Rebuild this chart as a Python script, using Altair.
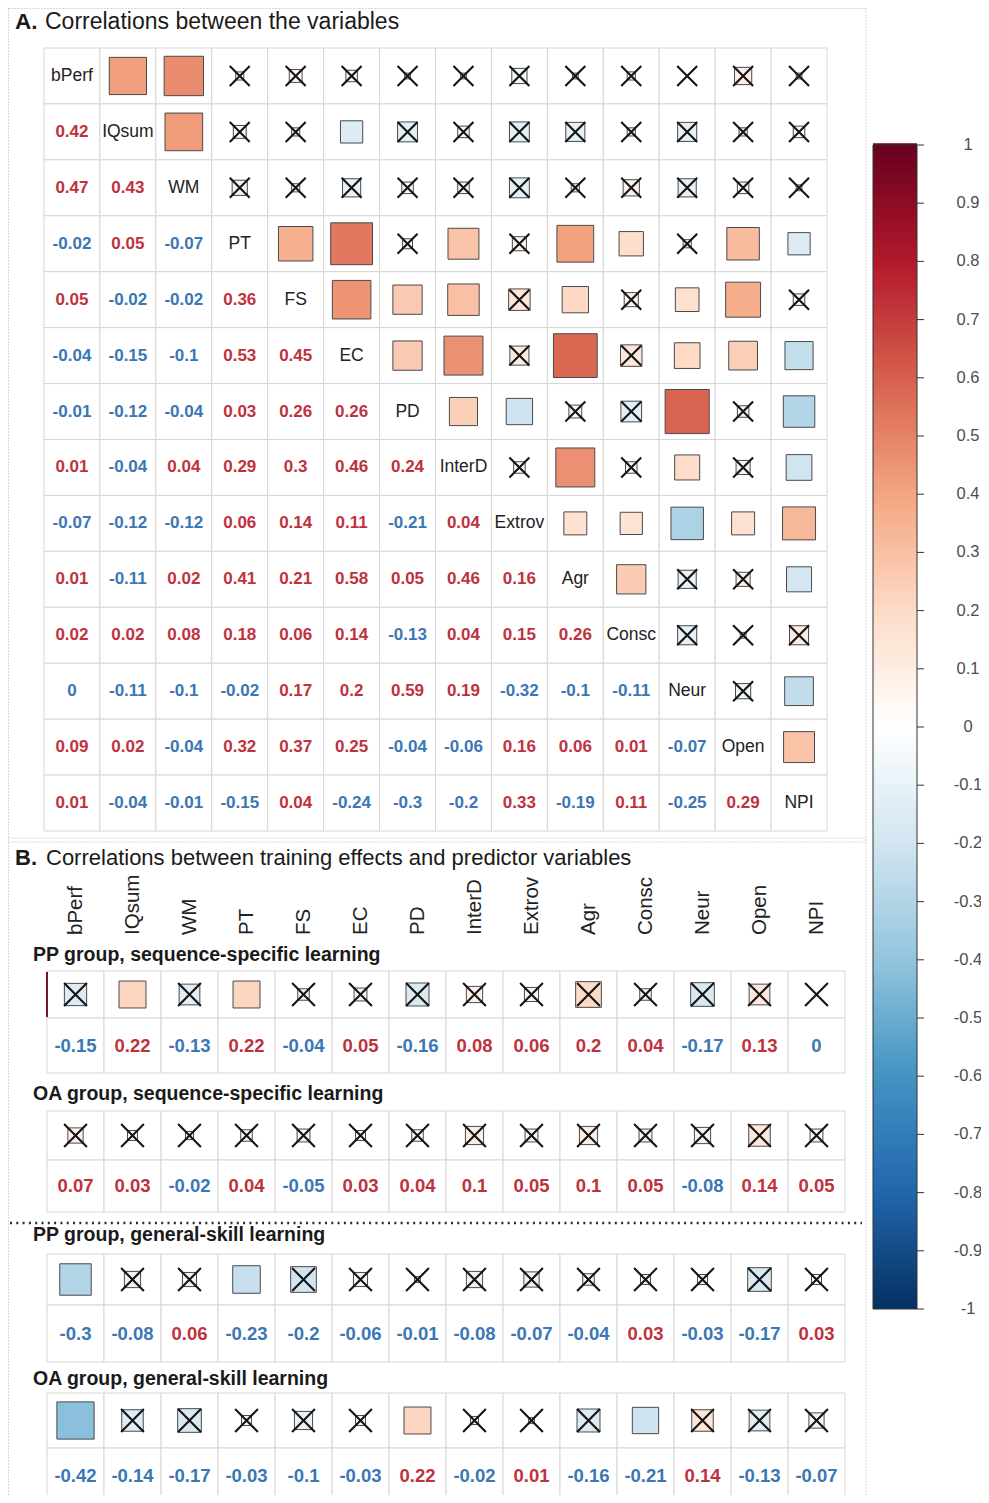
import altair as alt
import numpy as np
import pandas as pd

# ---------------- data ----------------
variables = ["bPerf", "IQsum", "WM", "PT", "FS", "EC", "PD", "InterD",
             "Extrov", "Agr", "Consc", "Neur", "Open", "NPI"]

# lower triangle (row i, columns 0..i-1)
lower_r = [
    [],
    [0.42],
    [0.47, 0.43],
    [-0.02, 0.05, -0.07],
    [0.05, -0.02, -0.02, 0.36],
    [-0.04, -0.15, -0.1, 0.53, 0.45],
    [-0.01, -0.12, -0.04, 0.03, 0.26, 0.26],
    [0.01, -0.04, 0.04, 0.29, 0.3, 0.46, 0.24],
    [-0.07, -0.12, -0.12, 0.06, 0.14, 0.11, -0.21, 0.04],
    [0.01, -0.11, 0.02, 0.41, 0.21, 0.58, 0.05, 0.46, 0.16],
    [0.02, 0.02, 0.08, 0.18, 0.06, 0.14, -0.13, 0.04, 0.15, 0.26],
    [0, -0.11, -0.1, -0.02, 0.17, 0.2, 0.59, 0.19, -0.32, -0.1, -0.11],
    [0.09, 0.02, -0.04, 0.32, 0.37, 0.25, -0.04, -0.06, 0.16, 0.06, 0.01, -0.07],
    [0.01, -0.04, -0.01, -0.15, 0.04, -0.24, -0.3, -0.2, 0.33, -0.19, 0.11, -0.25, 0.29],
]

# significance in the upper triangle (row i vs columns i+1..13); N = crossed out
upper_sig = [
    "SSNNNNNNNNNNN",
    "SNNSNNNNNNNN",
    "NNNNNNNNNNN",
    "SSNSNSSNSS",
    "SSSNSNSSN",
    "SSNSNSSS",
    "SSNNSNS",
    "NSNSNS",
    "SSSSS",
    "SNNS",
    "NNN",
    "NS",
    "S",
]

group_titles = ["PP group, sequence-specific learning",
                "OA group, sequence-specific learning",
                "PP group, general-skill learning",
                "OA group, general-skill learning"]

b_vals = [
    [-0.15, 0.22, -0.13, 0.22, -0.04, 0.05, -0.16, 0.08, 0.06, 0.2, 0.04, -0.17, 0.13, 0],
    [0.07, 0.03, -0.02, 0.04, -0.05, 0.03, 0.04, 0.1, 0.05, 0.1, 0.05, -0.08, 0.14, 0.05],
    [-0.3, -0.08, 0.06, -0.23, -0.2, -0.06, -0.01, -0.08, -0.07, -0.04, 0.03, -0.03, -0.17, 0.03],
    [-0.42, -0.14, -0.17, -0.03, -0.1, -0.03, 0.22, -0.02, 0.01, -0.16, -0.21, 0.14, -0.13, -0.07],
]
b_sig = ["NSNSNNNNNNNNNN",
         "NNNNNNNNNNNNNN",
         "SNNSNNNNNNNNNN",
         "SNNNNNSNNNSNNN"]

cbar_ticks = [1, 0.9, 0.8, 0.7, 0.6, 0.5, 0.4, 0.3, 0.2, 0.1, 0,
              -0.1, -0.2, -0.3, -0.4, -0.5, -0.6, -0.7, -0.8, -0.9, -1]
cbar_labels = ["1", "0.9", "0.8", "0.7", "0.6", "0.5", "0.4", "0.3", "0.2", "0.1", "0",
               "-0.1", "-0.2", "-0.3", "-0.4", "-0.5", "-0.6", "-0.7", "-0.8", "-0.9", "-1"]

RDBU_DOMAIN = [-1, -0.8, -0.6, -0.4, -0.2, 0, 0.2, 0.4, 0.6, 0.8, 1]
RDBU_COLORS = ["#053061", "#2166AC", "#4393C3", "#92C5DE", "#D1E5F0", "#FFFFFF",
               "#FDDBC7", "#F4A582", "#D6604D", "#B2182B", "#67001F"]

RED = "#bf323d"
BLUE = "#3a77b5"
FONT = "Liberation Sans"
XPATH = "M-1,-1L1,1M-1,1L1,-1"

# ---------------- tables ----------------
recs = []
for i in range(14):
    for j in range(14):
        if i == j:
            kind, r, sig = "diag", 1.0, "S"
        elif i > j:
            kind, r, sig = "lower", lower_r[i][j], upper_sig[j][i - j - 1]
        else:
            kind, r, sig = "upper", lower_r[j][i], upper_sig[i][j - i - 1]
        recs.append(dict(ri=i, ci=j, kind=kind, r=r, absr=abs(r), ns=(sig == "N"),
                         lab=f"{r:g}", sign="pos" if r > 0 else "neg", name=variables[i]))
dfA = pd.DataFrame(recs)
dfA["x1"] = dfA.ci - 0.5
dfA["x2"] = dfA.ci + 0.5
dfA["y1"] = dfA.ri - 0.5
dfA["y2"] = dfA.ri + 0.5

brecs = []
for g in range(4):
    for c in range(14):
        r = b_vals[g][c]
        brecs.append(dict(g=g, ci=c, r=r, absr=abs(r), ns=(b_sig[g][c] == "N"),
                          lab=f"{r:g}", sign="pos" if r > 0 else "neg",
                          ysq=3 * g + 0.5, ynum=3 * g + 1.5))
dfB = pd.DataFrame(brecs)

gridB = []
for g in range(4):
    for k in range(2):
        for c in range(14):
            gridB.append(dict(x1=c - 0.5, x2=c + 0.5, y1=3 * g + k, y2=3 * g + k + 1))
dfGridB = pd.DataFrame(gridB)
dfTitlesB = pd.DataFrame(dict(t=group_titles, y=[3 * g - 0.45 for g in range(4)]))
dfColsB = pd.DataFrame(dict(name=variables, ci=list(range(14))))

edges = np.linspace(-1, 1, 241)
dfBar = pd.DataFrame(dict(v0=edges[:-1], v1=edges[1:] + 0.003, vm=(edges[:-1] + edges[1:]) / 2))
dfTicks = pd.DataFrame(dict(v=cbar_ticks, lab=cbar_labels))

# ---------------- scales ----------------
def sc(domain, rng):
    return alt.Scale(domain=domain, range=rng, nice=False, zero=False)

XA = sc([-0.5, 13.5], [36, 819])
YA = sc([-0.5, 13.5], [40, 823])
XB = sc([-0.5, 13.5], [39, 837])
YB = sc(list(range(-1, 12)),
        [p - 8 for p in [935, 971, 1018, 1073, 1111, 1160, 1212, 1254, 1305, 1362, 1393, 1448, 1503]])
YC = sc([-1, 1], [1301, 137])

COLOR = alt.Color("r:Q", scale=alt.Scale(domain=RDBU_DOMAIN, range=RDBU_COLORS, interpolate="rgb"),
                  legend=None)
SIZE = alt.Size("absr:Q", scale=alt.Scale(domain=[0, 1], range=[0, 3300]), legend=None)
SIGNCOL = alt.Color("sign:N", scale=alt.Scale(domain=["pos", "neg"], range=[RED, BLUE]), legend=None)

layers = []

# ---------- Panel A ----------
layers.append(alt.Chart(dfA).mark_rect(fill="white", stroke="#d6d6d6", strokeWidth=1).encode(
    x=alt.X("x1:Q", scale=XA, axis=None), x2="x2:Q",
    y=alt.Y("y1:Q", scale=YA, axis=None), y2="y2:Q"))

upA = dfA[dfA.kind == "upper"]
layers.append(alt.Chart(upA).mark_square(opacity=1, stroke="#4a4a4a", strokeWidth=1).encode(
    x=alt.X("ci:Q", scale=XA, axis=None), y=alt.Y("ri:Q", scale=YA, axis=None),
    color=COLOR, size=SIZE))
layers.append(alt.Chart(upA[upA.ns]).mark_point(shape=XPATH, filled=False, size=400, opacity=1,
                                                 color="#141414", strokeWidth=2.1).encode(
    x=alt.X("ci:Q", scale=XA, axis=None), y=alt.Y("ri:Q", scale=YA, axis=None)))
layers.append(alt.Chart(dfA[dfA.kind == "diag"]).mark_text(font=FONT, fontSize=17.5, color="#222222",
                                                            baseline="middle").encode(
    x=alt.X("ci:Q", scale=XA, axis=None), y=alt.Y("ri:Q", scale=YA, axis=None), text="name:N"))
layers.append(alt.Chart(dfA[dfA.kind == "lower"]).mark_text(font=FONT, fontSize=17, fontWeight="bold",
                                                             baseline="middle").encode(
    x=alt.X("ci:Q", scale=XA, axis=None), y=alt.Y("ri:Q", scale=YA, axis=None), text="lab:N",
    color=SIGNCOL))

# ---------- Panel B ----------
layers.append(alt.Chart(dfGridB).mark_rect(fill="white", stroke="#d6d6d6", strokeWidth=1).encode(
    x=alt.X("x1:Q", scale=XB, axis=None), x2="x2:Q",
    y=alt.Y("y1:Q", scale=YB, axis=None), y2="y2:Q"))
layers.append(alt.Chart(dfB).mark_square(opacity=1, stroke="#4a4a4a", strokeWidth=1).encode(
    x=alt.X("ci:Q", scale=XB, axis=None), y=alt.Y("ysq:Q", scale=YB, axis=None),
    color=COLOR, size=SIZE))
layers.append(alt.Chart(dfB[dfB.ns]).mark_point(shape=XPATH, filled=False, size=520, opacity=1,
                                                 color="#141414", strokeWidth=2.1).encode(
    x=alt.X("ci:Q", scale=XB, axis=None), y=alt.Y("ysq:Q", scale=YB, axis=None)))
layers.append(alt.Chart(dfB).mark_text(font=FONT, fontSize=18.5, fontWeight="bold",
                                       baseline="middle").encode(
    x=alt.X("ci:Q", scale=XB, axis=None), y=alt.Y("ynum:Q", scale=YB, axis=None), text="lab:N",
    color=SIGNCOL))
layers.append(alt.Chart(dfTitlesB).mark_text(font=FONT, fontSize=19.5, fontWeight="bold", color="#1a1a1a",
                                             align="left", baseline="middle").encode(
    x=alt.value(25), y=alt.Y("y:Q", scale=YB, axis=None), text="t:N"))
layers.append(alt.Chart(dfColsB).mark_text(font=FONT, fontSize=20.5, color="#222222", angle=270,
                                           align="left", baseline="middle").encode(
    x=alt.X("ci:Q", scale=XB, axis=None), y=alt.value(927), text="name:N"))

# ---------- colour bar ----------
layers.append(alt.Chart(dfBar).mark_rect(strokeWidth=0).encode(
    x=alt.value(865), x2=alt.value(909),
    y=alt.Y("v0:Q", scale=YC, axis=None), y2="v1:Q",
    color=alt.Color("vm:Q", scale=alt.Scale(domain=RDBU_DOMAIN, range=RDBU_COLORS, interpolate="rgb"),
                    legend=None)))
layers.append(alt.Chart(pd.DataFrame(dict(a=[-1], b=[1]))).mark_rect(
    fill=None, stroke="#333333", strokeWidth=1).encode(
    x=alt.value(865), x2=alt.value(909), y=alt.Y("a:Q", scale=YC, axis=None), y2="b:Q"))
layers.append(alt.Chart(dfTicks).mark_rule(color="#333333", strokeWidth=1).encode(
    x=alt.value(909), x2=alt.value(916), y=alt.Y("v:Q", scale=YC, axis=None)))
layers.append(alt.Chart(dfTicks).mark_text(font=FONT, fontSize=16.5, color="#4d4d4d",
                                           align="center", baseline="middle").encode(
    x=alt.value(960), y=alt.Y("v:Q", scale=YC, axis=None), text="lab:N"))

# ---------- titles ----------
one = pd.DataFrame(dict(k=[0]))
def txt(s, x, y, size, weight="normal"):
    return alt.Chart(one).mark_text(text=s, font=FONT, fontSize=size, fontWeight=weight,
                                    color="#1a1a1a", align="left", baseline="middle").encode(
        x=alt.value(x), y=alt.value(y))

layers += [txt("A.", 7, 14, 22.5, "bold"), txt("Correlations between the variables", 37, 14, 23),
           txt("B.", 7, 850, 22, "bold"),
           txt("Correlations between training effects and predictor variables", 38, 850, 22)]

# ---------- decorative dotted frames ----------
def rule(x1, x2, y1, y2, color="#b0b0b0", w=1, dash=(1, 2)):
    return alt.Chart(one).mark_rule(color=color, strokeWidth=w, strokeDash=list(dash)).encode(
        x=alt.value(x1), x2=alt.value(x2), y=alt.value(y1), y2=alt.value(y2))

layers += [
    rule(0.5, 858, 0.5, 0.5),
    rule(0.5, 0.5, 0.5, 1487),
    rule(858, 858, 0.5, 1487),
    rule(0.5, 858, 830, 830),
    rule(0.5, 858, 834, 834),
    rule(2, 854, 1215, 1215, color="#2a2a2a", w=2.5, dash=(2, 4.3)),
    rule(39, 39, 964, 1009, color="#6b1a26", w=2, dash=(1, 0)),
]

chart = alt.layer(*layers).resolve_scale(
    x="independent", y="independent", color="independent", size="independent"
).properties(
    width=973, height=1487, autosize=alt.AutoSizeParams(type="none"), padding=0,
    background="white"
).configure_view(stroke=None)

chart.save("out.html", embed_options={"renderer": "svg", "actions": False})
